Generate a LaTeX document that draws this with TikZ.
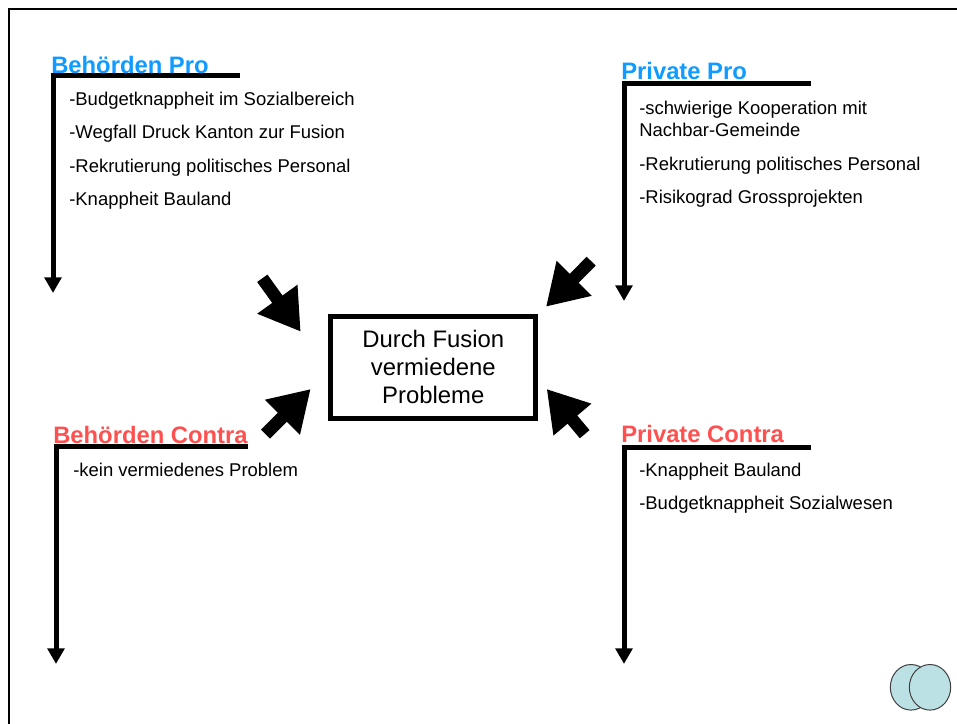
\documentclass[tikz,border=0pt]{standalone}
\usepackage{fontspec}
\setmainfont{Liberation Sans}
\usetikzlibrary{arrows.meta,shapes.geometric}
\definecolor{probl}{HTML}{0F9BFF}
\definecolor{conred}{HTML}{FF5050}
\definecolor{vennfill}{HTML}{BCE1E5}
\tikzset{
  x=0.75pt,y=-0.75pt,
  frameline/.style={black,line width=2.2pt,line cap=butt,line join=miter},
  axisline/.style={black,line width=3.75pt,line join=miter,-{Triangle[length=11.8pt,width=12.5pt]}},
  bigarrow/.style={black,line width=9.5pt,-{Triangle[length=30pt,width=35pt]}},
  headpro/.style={anchor=base west,inner sep=0pt,font=\bfseries\fontsize{17.85}{20}\selectfont,text=probl},
  headcon/.style={anchor=base west,inner sep=0pt,font=\bfseries\fontsize{17.85}{20}\selectfont,text=conred},
  item/.style={anchor=base west,inner sep=0pt,font=\fontsize{13.85}{16.5}\selectfont,align=left},
  centerbox/.style={draw=black,line width=3.75pt,minimum width=154pt,minimum height=76.5pt,inner sep=0pt,align=center,font=\fontsize{17.9}{21}\selectfont},
  vennc/.style={draw=black!75,fill=vennfill,line width=0.75pt,ellipse,minimum width=31pt,minimum height=34.2pt,inner sep=0pt},
}
\begin{document}
\begin{tikzpicture}
\useasboundingbox (0,0) rectangle (957,724);
\draw[frameline] (9,724) -- (9,9) -- (957,9);

% corner axes
\coordinate (bpE) at (240,76); \coordinate (bpC) at (53,76); \coordinate (bpT) at (53,293);
\coordinate (ppE) at (811,84); \coordinate (ppC) at (624,84); \coordinate (ppT) at (624,301);
\coordinate (bcE) at (248,446); \coordinate (bcC) at (56,446); \coordinate (bcT) at (56,664);
\coordinate (pcE) at (811,447); \coordinate (pcC) at (624,447); \coordinate (pcT) at (624,664);
\draw[axisline] (bpE) -- (bpC) -- (bpT);
\draw[axisline] (ppE) -- (ppC) -- (ppT);
\draw[axisline] (bcE) -- (bcC) -- (bcT);
\draw[axisline] (pcE) -- (pcC) -- (pcT);

% headings
\node[headpro] (hbp) at (51,73.8) {Behörden Pro};
\node[headpro] (hpp) at (621,79.8) {Private Pro};
\node[headcon] (hbc) at (53,443.8) {Behörden Contra};
\node[headcon] (hpc) at (621,442.8) {Private Contra};

% lists
\node[item] (b1) at (69,105.5) {-Budgetknappheit im Sozialbereich};
\node[item] (b2) at (69,138.5) {-Wegfall Druck Kanton zur Fusion};
\node[item] (b3) at (69,172.5) {-Rekrutierung politisches Personal};
\node[item] (b4) at (69,205.8) {-Knappheit Bauland};
\node[item] (p1) at (639,136.5) {-schwierige Kooperation mit\\Nachbar-Gemeinde};
\node[item] (p2) at (639,170.5) {-Rekrutierung politisches Personal};
\node[item] (p3) at (639,203.5) {-Risikograd Grossprojekten};
\node[item] (c1) at (73,476.8) {-kein vermiedenes Problem};
\node[item] (d1) at (639,476.8) {-Knappheit Bauland};
\node[item] (d2) at (639,509.8) {-Budgetknappheit Sozialwesen};

% centre
\node[centerbox] (ctr) at (433.3,367.3) {Durch Fusion\\vermiedene\\Probleme};

% inward arrows
\coordinate (tlS) at (262.3,278.3); \coordinate (tlE) at (300.7,331.7);
\coordinate (trS) at (591.2,261.2); \coordinate (trE) at (546,306.7);
\coordinate (blS) at (265.5,434.2); \coordinate (blE) at (310.7,389);
\coordinate (brS) at (584.7,434.2); \coordinate (brE) at (546.7,389);
\draw[bigarrow] (tlS) -- (tlE);
\draw[bigarrow] (trS) -- (trE);
\draw[bigarrow] (blS) -- (blE);
\draw[bigarrow] (brS) -- (brE);

% logo
\node[vennc] (v1) at (911,687.3) {};
\node[vennc] (v2) at (930,687.3) {};
\end{tikzpicture}
\end{document}
